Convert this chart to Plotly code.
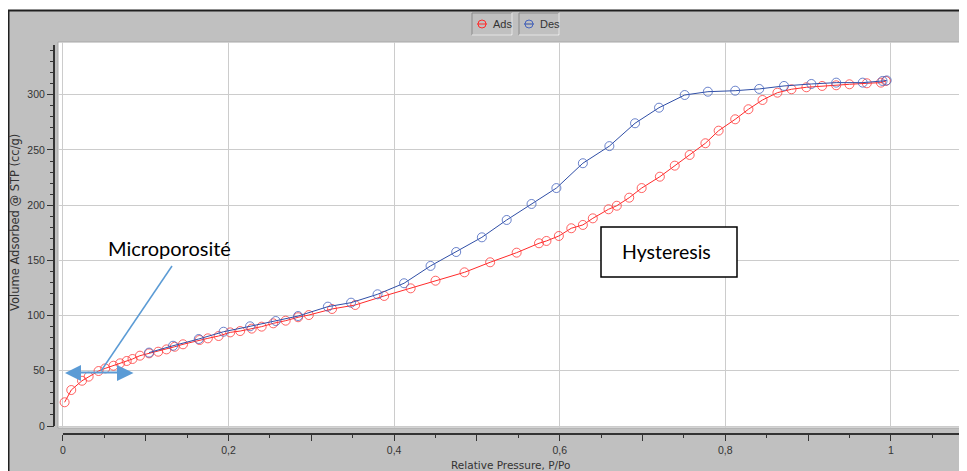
import plotly.graph_objects as go

# adsorption branch (P/Po, cc/g)
ads_p = [0.002, 0.010, 0.023, 0.031, 0.043, 0.051, 0.061, 0.069, 0.077, 0.084,
         0.093, 0.104, 0.115, 0.125, 0.135, 0.145, 0.165, 0.175, 0.188, 0.202,
         0.214, 0.228, 0.240, 0.254, 0.269, 0.284, 0.297, 0.325, 0.353, 0.388,
         0.420, 0.450, 0.485, 0.516, 0.548, 0.575, 0.584, 0.599, 0.614, 0.628,
         0.640, 0.659, 0.669, 0.684, 0.699, 0.721, 0.739, 0.757, 0.776, 0.792,
         0.812, 0.828, 0.845, 0.863, 0.880, 0.898, 0.917, 0.934, 0.950, 0.971,
         0.988, 0.994]
ads_v = [21.5, 32.6, 41.0, 44.7, 49.8, 52.2, 54.6, 56.8, 58.9, 60.7,
         63.7, 65.8, 67.3, 69.4, 71.8, 74.0, 77.9, 79.4, 81.5, 84.8,
         86.0, 88.2, 90.0, 93.0, 95.4, 98.5, 100.5, 106.0, 109.6, 117.8,
         124.7, 131.6, 139.2, 148.3, 157.0, 165.5, 167.6, 172.1, 179.1, 182.1,
         188.1, 196.3, 199.5, 206.8, 215.5, 225.8, 235.8, 245.5, 256.1, 267.5,
         277.8, 286.9, 295.3, 301.9, 305.0, 306.8, 308.0, 308.6, 309.5, 310.4,
         311.0, 312.5]

# desorption branch
des_p = [0.995, 0.990, 0.966, 0.934, 0.904, 0.871, 0.841, 0.812, 0.779, 0.751,
         0.720, 0.691, 0.660, 0.628, 0.596, 0.566, 0.536, 0.506, 0.475, 0.444,
         0.412, 0.380, 0.348, 0.320, 0.284, 0.257, 0.226, 0.194, 0.164, 0.133,
         0.104]
des_v = [313.0, 312.5, 311.0, 311.0, 309.8, 308.0, 305.3, 303.7, 302.8, 299.8,
         288.3, 274.2, 253.5, 238.0, 215.5, 201.1, 186.6, 170.9, 157.6, 145.0,
         129.3, 119.3, 111.7, 108.1, 99.6, 95.1, 90.3, 85.4, 78.8, 72.7,
         66.5]

x_tick_vals = [0, 0.2, 0.4, 0.6, 0.8, 1.0]
x_tick_text = ["0", "0,2", "0,4", "0,6", "0,8", "1"]
x_mid_ticks = [0.1, 0.3, 0.5, 0.7, 0.9]
y_tick_vals = [0, 50, 100, 150, 200, 250, 300]

# page is 967x471; the html body adds an 8px margin, so the figure is shifted
OFF = 8
W, H = 967 - OFF, 471 - OFF
ML, MR, MT, MB = 54 - OFF, 0, 42 - OFF, 37
PW, PH = W - ML - MR, H - MT - MB

BG = "#c0c0c0"
ANNO = "#5b9bd5"
TICKFONT = dict(family="Liberation Sans", size=10.5, color="#333333")


def px(x):
    # page pixel -> paper fraction
    return (x - OFF - ML) / PW


def py(y):
    return (H - MB - (y - OFF)) / PH


def pline(x0, y0, x1, y1, color, width, layer="above"):
    return dict(type="line", xref="paper", yref="paper", x0=px(x0), y0=py(y0),
                x1=px(x1), y1=py(y1), line=dict(color=color, width=width), layer=layer)


def prect(x0, y0, x1, y1, fill, line_color, width, layer="above"):
    return dict(type="rect", xref="paper", yref="paper", x0=px(x0), y0=py(y0),
                x1=px(x1), y1=py(y1), fillcolor=fill,
                line=dict(color=line_color, width=width), layer=layer)


def ppath(points, color):
    d = "M " + " L ".join(f"{px(a)},{py(b)}" for a, b in points) + " Z"
    return dict(type="path", xref="paper", yref="paper", path=d,
                fillcolor=color, line=dict(color=color, width=0), layer="above")


fig = go.Figure()
fig.add_trace(go.Scatter(
    x=ads_p, y=ads_v, name="Ads", mode="lines+markers",
    line=dict(color="#ff2a2a", width=1),
    marker=dict(symbol="circle-open", size=9, color="rgba(255,60,60,0.8)", line=dict(width=1)),
))
fig.add_trace(go.Scatter(
    x=des_p, y=des_v, name="Des", mode="lines+markers",
    line=dict(color="#2f4ea6", width=1),
    marker=dict(symbol="circle-open", size=9, color="rgba(70,100,190,0.8)", line=dict(width=1)),
))
# invisible trace to carry the 0.1-step tick axis
fig.add_trace(go.Scatter(x=[None], y=[None], xaxis="x2", showlegend=False, hoverinfo="skip"))

shapes = [
    # window frame
    prect(0, 0, 967, 10, "white", "white", 0, "below"),
    pline(8.5, 471, 8.5, 10.5, "#202020", 2),
    pline(8, 10.5, 967, 10.5, "#202020", 2),
    # plot border
    prect(58, 42, 969, 428, "rgba(0,0,0,0)", "#a8a8a8", 1, "below"),
    # axis lines
    dict(type="line", xref="x", yref="paper", x0=0, x1=1.092, y0=0, y1=0,
         line=dict(color="#333333", width=2)),
    dict(type="line", xref="paper", yref="y", x0=0, x1=0, y0=0, y1=345,
         line=dict(color="#333333", width=2)),
    # legend boxes
    prect(472, 13, 512, 35, BG, "#8a8a8a", 1),
    pline(472, 35, 512, 35, "white", 1),
    pline(512, 13, 512, 35, "white", 1),
    prect(519, 13, 559, 35, BG, "#8a8a8a", 1),
    pline(519, 35, 559, 35, "white", 1),
    pline(559, 13, 559, 35, "white", 1),
    pline(477, 24, 487, 24, "#ff2a2a", 1),
    dict(type="circle", xref="paper", yref="paper", x0=px(478), x1=px(486),
         y0=py(20), y1=py(28), line=dict(color="#ff2a2a", width=1)),
    pline(524, 24, 534, 24, "#2f4ea6", 1),
    dict(type="circle", xref="paper", yref="paper", x0=px(525), x1=px(533),
         y0=py(20), y1=py(28), line=dict(color="#4664be", width=1)),
    # Hysteresis box
    prect(601, 227, 737, 277, "white", "black", 1.5),
    # Microporosity pointer + double arrow
    pline(172, 266, 101, 371, ANNO, 1.5),
    pline(80, 372.5, 118, 372.5, ANNO, 2),
    ppath([(65, 373), (81, 365), (81, 381)], ANNO),
    ppath([(133.5, 373), (117, 365), (117, 381)], ANNO),
]

annotations = [
    dict(text="Ads", x=px(491), y=py(24), xanchor="left", yanchor="middle",
         font=dict(family="Liberation Sans", size=11, color="#333333")),
    dict(text="Des", x=px(538), y=py(24), xanchor="left", yanchor="middle",
         font=dict(family="Liberation Sans", size=11, color="#333333")),
    dict(text="Volume Adsorbed @ STP (cc/g)", x=px(15), y=py(223), textangle=-90,
         xanchor="center", yanchor="middle",
         font=dict(family="DejaVu Sans", size=11.5, color="#333333")),
    dict(text="Relative Pressure, P/Po", x=px(510), y=py(465),
         xanchor="center", yanchor="middle",
         font=dict(family="DejaVu Sans", size=10.5, color="#333333")),
    dict(text="Microporosité", x=px(169), y=py(248), xanchor="center", yanchor="middle",
         font=dict(family="Lato", size=20, color="black")),
    dict(text="Hysteresis", x=px(666), y=py(251), xanchor="center", yanchor="middle",
         font=dict(family="Lato", size=19.5, color="black")),
]
for a in annotations:
    a.update(xref="paper", yref="paper", showarrow=False)

fig.update_layout(
    width=W, height=H,
    margin=dict(l=ML, r=MR, t=MT, b=MB, pad=0),
    paper_bgcolor=BG, plot_bgcolor="white",
    showlegend=False,
    shapes=shapes, annotations=annotations,
    xaxis=dict(
        domain=[px(58), 1], range=[-0.006, 1.092], anchor="free", position=0,
        tickvals=x_tick_vals, ticktext=x_tick_text, tickfont=TICKFONT,
        ticks="outside", ticklen=6, tickcolor="#333333", tickwidth=1,
        showline=False, zeroline=False, showgrid=True, gridcolor="#cccccc", gridwidth=1,
        minor=dict(dtick=0.05, tick0=0, ticks="outside", ticklen=3, tickcolor="#333333",
                   showgrid=False),
    ),
    xaxis2=dict(
        domain=[px(58), 1], range=[-0.006, 1.092], anchor="free", position=0,
        overlaying="x", tickvals=x_mid_ticks, showticklabels=False,
        ticks="outside", ticklen=6, tickcolor="#333333", tickwidth=1,
        showline=False, zeroline=False, showgrid=False,
    ),
    yaxis=dict(
        domain=[py(428), 1], range=[-1.8, 347.8], anchor="free", position=0,
        tickvals=y_tick_vals, tickfont=TICKFONT,
        ticks="outside", ticklen=7, tickcolor="#333333", tickwidth=1,
        showline=False, zeroline=False, showgrid=True, gridcolor="#cccccc", gridwidth=1,
        minor=dict(dtick=10, tick0=0, ticks="outside", ticklen=4, tickcolor="#333333",
                   showgrid=False),
    ),
)

fig.write_html("out.html")
